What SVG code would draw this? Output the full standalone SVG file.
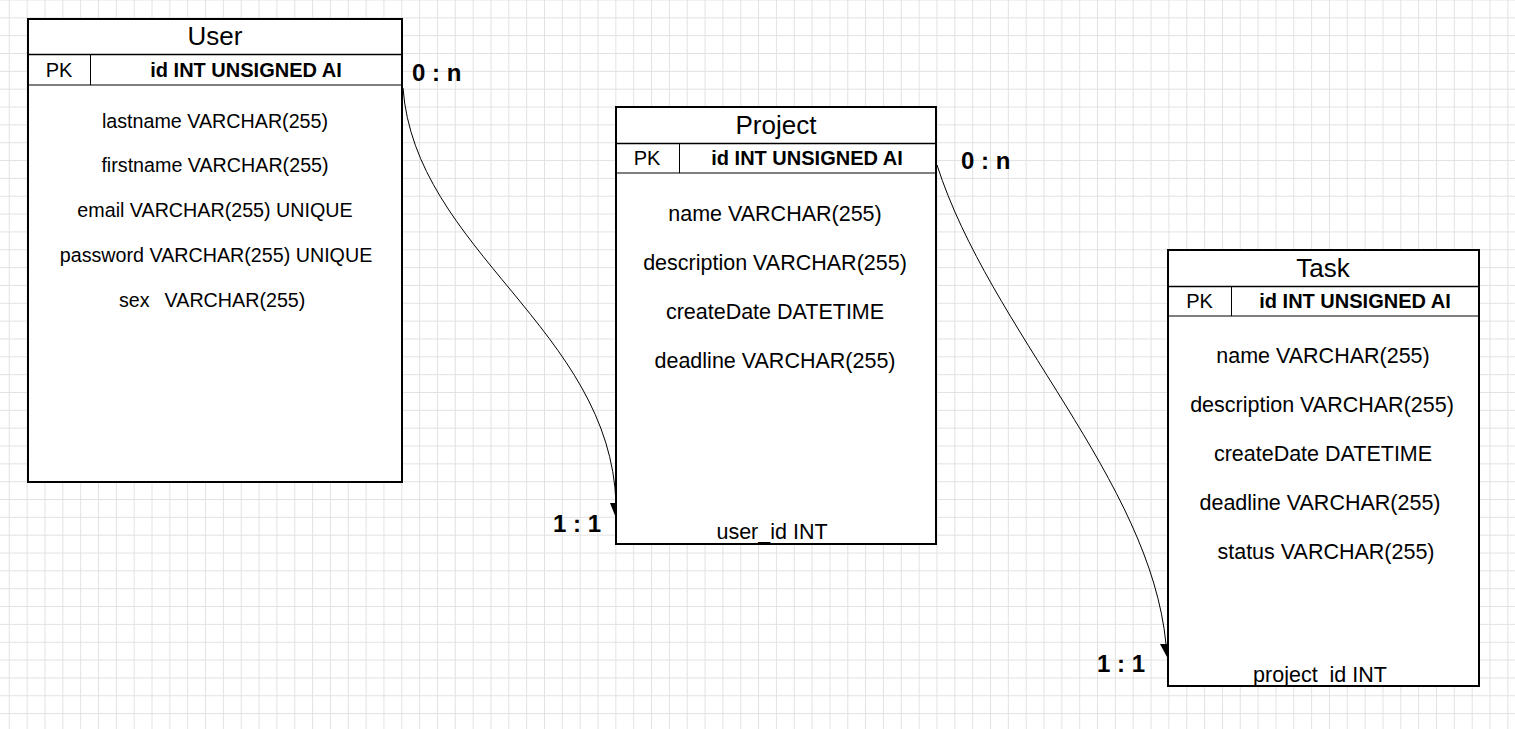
<svg xmlns="http://www.w3.org/2000/svg" width="1515" height="729" viewBox="0 0 1515 729">
<defs>
<pattern id="grid" patternUnits="userSpaceOnUse" x="8.8" y="-0.5" width="17.84" height="17.84">
<rect x="0" y="0" width="1" height="17.84" fill="#e2e2e2"/>
<rect x="0" y="0" width="17.84" height="1" fill="#e2e2e2"/>
</pattern>
</defs>
<style>
.box{fill:#fff;stroke:#000;stroke-width:2}
.hl{stroke:#000;stroke-width:1.5}
.ln{stroke:#000;stroke-width:1}
text{font-family:"Liberation Sans",Arial,sans-serif;fill:#000}
.t{font-size:26px;text-anchor:middle}
.f{font-size:19.7px;text-anchor:middle}
.g{font-size:21.5px;text-anchor:middle}
.p{font-size:20px;text-anchor:middle}
.b{font-size:20px;font-weight:bold;text-anchor:middle}
.c{font-size:24px;font-weight:bold}
.con{fill:none;stroke:#000;stroke-width:1}
.ah{fill:#000}
</style>
<rect x="0" y="0" width="1515" height="729" fill="#fff"/>
<rect x="0" y="0" width="1515" height="729" fill="url(#grid)"/>

<g id="connectors">
<path class="con" d="M403,88 C415,250 610,330 616,503"/>
<path class="ah" d="M610,503 L622,503 L616,518 Z"/>
<path class="con" d="M937,165 C990,330 1150,480 1166,644"/>
<path class="ah" d="M1160,644 L1172,644 L1167,657 Z"/>
<text class="c" x="412" y="81">0 : n</text>
<text class="c" x="553" y="532">1 : 1</text>
<text class="c" x="961" y="169">0 : n</text>
<text class="c" x="1097" y="672">1 : 1</text>
</g>

<g id="user">
<rect class="box" x="28" y="19" width="374" height="463"/>
<line class="hl" x1="28" y1="54.5" x2="402" y2="54.5"/>
<line class="ln" x1="28" y1="85" x2="402" y2="85"/>
<line class="ln" x1="90.5" y1="54.5" x2="90.5" y2="85"/>
<text class="t" x="215" y="45">User</text>
<text class="p" x="59" y="76.5">PK</text>
<text class="b" x="246" y="76.5">id INT UNSIGNED AI</text>
<text class="f" x="215" y="128">lastname VARCHAR(255)</text>
<text class="f" x="215" y="172">firstname VARCHAR(255)</text>
<text class="f" x="215" y="217">email VARCHAR(255) UNIQUE</text>
<text class="f" x="216" y="262">password VARCHAR(255) UNIQUE</text>
<text class="f" x="119" y="307" style="text-anchor:start;word-spacing:2px" xml:space="preserve">sex  VARCHAR(255)</text>
</g>

<g id="project">
<rect class="box" x="616" y="107" width="320" height="437"/>
<line class="hl" x1="616" y1="143.5" x2="936" y2="143.5"/>
<line class="ln" x1="616" y1="173" x2="936" y2="173"/>
<line class="ln" x1="679.5" y1="143.5" x2="679.5" y2="173"/>
<text class="t" x="776" y="134">Project</text>
<text class="p" x="647" y="165">PK</text>
<text class="b" x="807" y="165">id INT UNSIGNED AI</text>
<text class="g" x="775" y="220.5">name VARCHAR(255)</text>
<text class="g" x="775" y="269.5">description VARCHAR(255)</text>
<text class="g" x="775" y="318.5">createDate DATETIME</text>
<text class="g" x="775" y="367.5">deadline VARCHAR(255)</text>
<text class="g" x="772" y="538.5">user_id INT</text>
</g>

<g id="task">
<rect class="box" x="1168" y="250" width="311" height="436"/>
<line class="hl" x1="1168" y1="286.5" x2="1479" y2="286.5"/>
<line class="ln" x1="1168" y1="316" x2="1479" y2="316"/>
<line class="ln" x1="1231.5" y1="286.5" x2="1231.5" y2="316"/>
<text class="t" x="1323" y="277">Task</text>
<text class="p" x="1199.5" y="308">PK</text>
<text class="b" x="1355" y="308">id INT UNSIGNED AI</text>
<text class="g" x="1323" y="362.5">name VARCHAR(255)</text>
<text class="g" x="1322" y="411.5">description VARCHAR(255)</text>
<text class="g" x="1323" y="460.5">createDate DATETIME</text>
<text class="g" x="1320" y="509.5">deadline VARCHAR(255)</text>
<text class="g" x="1326" y="558.5">status VARCHAR(255)</text>
<text class="g" x="1320" y="681.5">project_id INT</text>
</g>
</svg>
